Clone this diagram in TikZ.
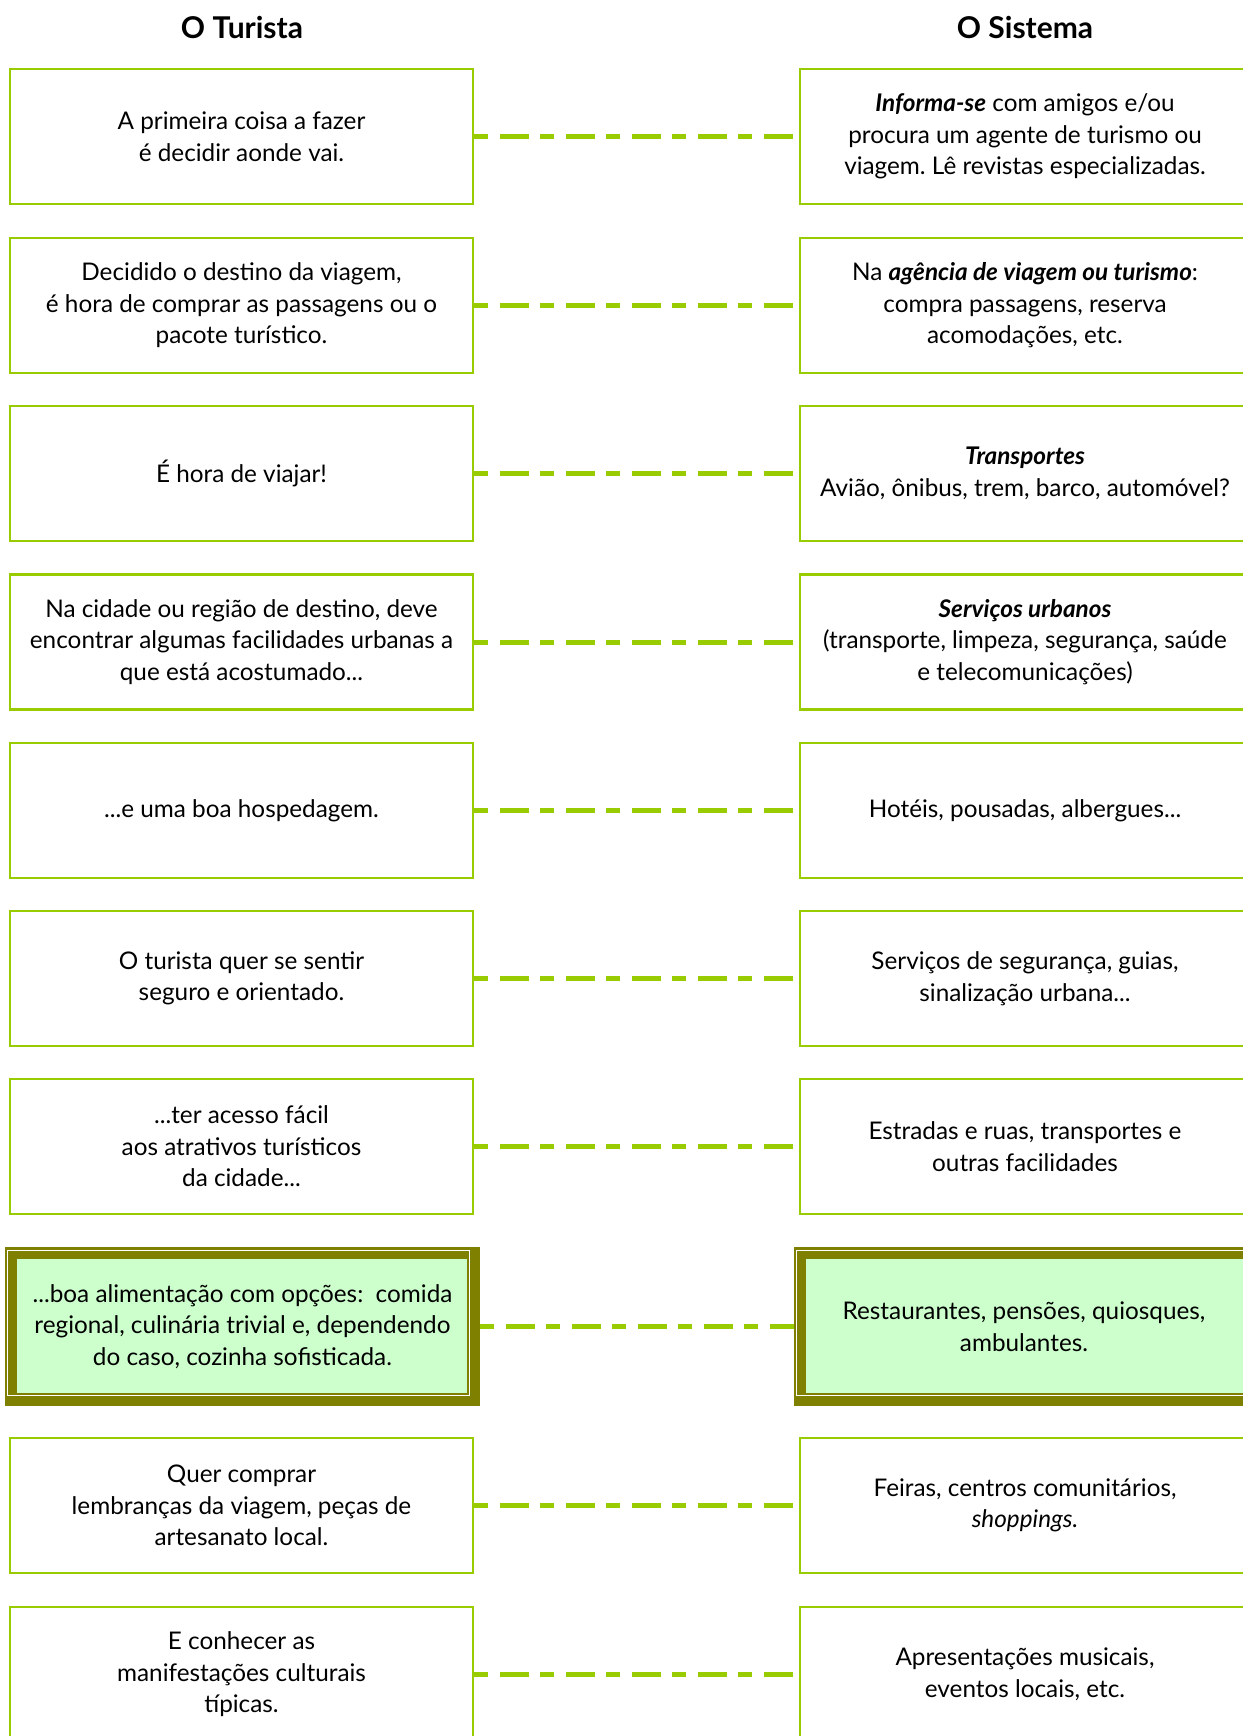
\documentclass[tikz,border=0pt]{standalone}
\usepackage{fontspec}
\setmainfont{Lato}
\frenchspacing
\definecolor{gborder}{HTML}{99CC00}
\definecolor{olivedk}{HTML}{808000}
\definecolor{lgreen}{HTML}{CCFFCC}
\begin{document}
\begin{tikzpicture}[x=1pt,y=-1pt,
  txt/.style={font=\fontsize{24.3}{31.5}\selectfont, align=center, inner sep=0pt},
  lbox/.style={txt, draw=gborder, line width=2.5pt, minimum width=463pt, minimum height=135pt},
  rbox/.style={txt, draw=gborder, line width=2.5pt, minimum width=450pt, minimum height=135pt},
  hlnode/.style={txt, minimum height=159pt},
  link/.style={draw=gborder, line width=5pt, dash pattern=on 14pt off 12pt on 29pt off 11pt},
  head/.style={font=\fontsize{30}{34}\selectfont\bfseries, inner sep=0pt, anchor=base}]
\useasboundingbox (0,0) rectangle (1242,1736);
\fill[white] (0,0) rectangle (1242,1736);

\node[head] (hT) at (242,39) {O Turista};
\node[head] (hS) at (1025,39) {O Sistema};

% highlighted backgrounds
\fill[olivedk] (5,1247) rectangle (480,1406);
\draw[white, line width=1pt] (7.5,1250) rectangle (469,1395);
\fill[lgreen] (17,1259) rectangle (467,1393);
\fill[olivedk] (794,1247) rectangle (1260,1406);
\draw[white, line width=1pt] (796.5,1250) rectangle (1260,1395);
\fill[lgreen] (806,1259) rectangle (1260,1393);

\node[lbox] (L1) at (241.5,136.5) {A primeira coisa a fazer\\é decidir aonde vai.};
\node[rbox] (R1) at (1025,136.5) {\textbf{\textit{Informa-se}} com amigos e/ou\\procura um agente de turismo ou\\viagem. Lê revistas especializadas.};

\node[lbox] (L2) at (241.5,305.5) {Decidido o destino da viagem,\\é hora de comprar as passagens ou o\\pacote turístico.};
\node[rbox] (R2) at (1025,305.5) {Na \textbf{\textit{agência de viagem ou turismo}}:\\compra passagens, reserva\\acomodações, etc.};

\node[lbox] (L3) at (241.5,473.5) {É hora de viajar!};
\node[rbox] (R3) at (1025,473.5) {\textbf{\textit{Transportes}}\\Avião, ônibus, trem, barco, automóvel?};

\node[lbox] (L4) at (241.5,642) {Na cidade ou região de destino, deve\\encontrar algumas facilidades urbanas a\\que está acostumado...};
\node[rbox] (R4) at (1025,642) {\textbf{\textit{Serviços urbanos}}\\(transporte, limpeza, segurança, saúde\\e telecomunicações)};

\node[lbox] (L5) at (241.5,810.5) {...e uma boa hospedagem.};
\node[rbox] (R5) at (1025,810.5) {Hotéis, pousadas, albergues...};

\node[lbox] (L6) at (241.5,978.5) {O turista quer se sentir\\seguro e orientado.};
\node[rbox] (R6) at (1025,978.5) {Serviços de segurança, guias,\\sinalização urbana...};

\node[lbox] (L7) at (241.5,1146.5) {...ter acesso fácil\\aos atrativos turísticos\\da cidade...};
\node[rbox] (R7) at (1025,1146.5) {Estradas e ruas, transportes e\\outras facilidades};

\node[hlnode, minimum width=475pt] (L8) at (242.5,1326.5) {...boa alimentação com opções:\ \ comida\\regional, culinária trivial e, dependendo\\do caso, cozinha sofisticada.};
\node[hlnode, minimum width=460pt] (R8) at (1024,1326.5) {Restaurantes, pensões, quiosques,\\ambulantes.};

\node[lbox] (L9) at (241.5,1505.5) {Quer comprar\\lembranças da viagem, peças de\\artesanato local.};
\node[rbox] (R9) at (1025,1505.5) {Feiras, centros comunitários,\\\textit{shoppings.}};

\node[lbox] (L10) at (241.5,1674.5) {E conhecer as\\manifestações culturais\\típicas.};
\node[rbox] (R10) at (1025,1674.5) {Apresentações musicais,\\eventos locais, etc.};

\foreach \i in {1,...,10} {
  \draw[link] (L\i.east) -- (R\i.west);
}
\end{tikzpicture}
\end{document}
